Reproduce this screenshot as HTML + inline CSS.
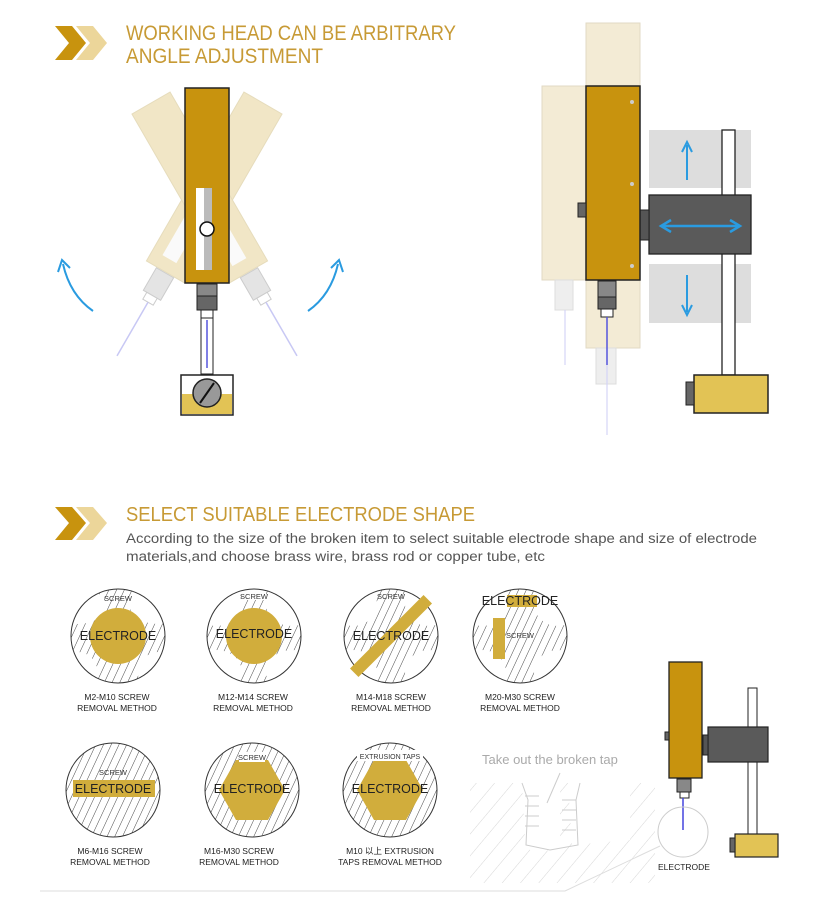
<!DOCTYPE html>
<html><head><meta charset="utf-8"><style>
html,body{margin:0;padding:0;background:#fff;}
svg{display:block;}
text{font-family:"Liberation Sans",sans-serif;}
</style></head><body>
<svg width="820" height="923" viewBox="0 0 820 923" xmlns="http://www.w3.org/2000/svg">
<defs>
<pattern id="h" width="7" height="7" patternUnits="userSpaceOnUse" patternTransform="rotate(25)">
<rect width="7" height="7" fill="#fff"/><line x1="0" y1="0" x2="0" y2="7" stroke="#333" stroke-width="0.9"/>
</pattern>
<pattern id="h2" width="14" height="14" patternUnits="userSpaceOnUse" patternTransform="rotate(40)">
<line x1="0" y1="0" x2="0" y2="14" stroke="#ccc" stroke-width="0.8"/>
</pattern>
<g id="head">
<rect x="185" y="88" width="44" height="195" fill="#c8930e" stroke="#222" stroke-width="1.5"/>
<rect x="196" y="188" width="16" height="82" fill="#fff"/>
<rect x="204" y="188" width="8" height="82" fill="#bbb"/>
<circle cx="207" cy="229" r="7" fill="#fff" stroke="#111" stroke-width="1.5"/>
<rect x="197" y="284" width="20" height="12" fill="#888" stroke="#222"/>
<rect x="197" y="296" width="20" height="14" fill="#666" stroke="#222"/>
<rect x="201" y="310" width="12" height="8" fill="#fff" stroke="#222"/>
</g>
<g id="gh">
<rect x="185" y="88" width="44" height="195" fill="#f1e6c6" stroke="#e6dcbc"/>
<rect x="196" y="188" width="16" height="82" fill="#fafafa"/>
<rect x="197" y="284" width="20" height="26" fill="#e4e4e4" stroke="#ccc"/>
<rect x="201" y="310" width="12" height="8" fill="#fff" stroke="#ccc"/>
<line x1="207" y1="318" x2="207" y2="380" stroke="#c8c8f4" stroke-width="1.5"/>
</g>
<clipPath id="c"><circle r="47"/></clipPath>
</defs>

<!-- header 1 -->
<polygon points="55,26 72,26 86,43 72,60 55,60 69,43" fill="#c8930e"/>
<polygon points="76,26 93,26 107,43 93,60 76,60 90,43" fill="#ecd69a"/>
<text x="126" y="40" font-size="21" fill="#c79a35" textLength="330" lengthAdjust="spacingAndGlyphs">WORKING HEAD CAN BE ARBITRARY</text>
<text x="126" y="63" font-size="21" fill="#c79a35" textLength="197" lengthAdjust="spacingAndGlyphs">ANGLE ADJUSTMENT</text>

<!-- left machine -->
<use href="#gh" transform="rotate(30 207 200)"/>
<use href="#gh" transform="rotate(-30 207 200)"/>
<use href="#head"/>
<rect x="201" y="318" width="12" height="56" fill="#fff" stroke="#222"/>
<line x1="207" y1="320" x2="207" y2="368" stroke="#5555dd" stroke-width="1.5"/>
<rect x="181" y="375" width="52" height="40" fill="#fff" stroke="#222" stroke-width="1.5"/>
<rect x="182" y="394" width="50" height="20" fill="#e2c355"/>
<circle cx="207" cy="393" r="14" fill="#999" stroke="#222" stroke-width="1.5"/>
<line x1="200" y1="403" x2="214" y2="383" stroke="#111" stroke-width="2"/>
<path d="M93,311 Q70,295 63,264" fill="none" stroke="#2a9be0" stroke-width="2"/>
<path d="M58,272 L62,260 L70,268" fill="none" stroke="#2a9be0" stroke-width="2"/>
<path d="M308,311 Q331,295 338,264" fill="none" stroke="#2a9be0" stroke-width="2"/>
<path d="M331,268 L339,260 L343,272" fill="none" stroke="#2a9be0" stroke-width="2"/>

<!-- right machine -->
<rect x="586" y="23" width="54" height="325" fill="#f3ebd5" stroke="#e2dac4"/>
<rect x="542" y="86" width="44" height="194" fill="#f3ebd5" stroke="#e2dac4"/>
<rect x="555" y="280" width="18" height="30" fill="#eee" stroke="#ddd"/>
<rect x="596" y="348" width="20" height="36" fill="#eee" stroke="#ddd"/>
<line x1="565" y1="310" x2="565" y2="365" stroke="#d4d4f6" stroke-width="1.2"/>
<line x1="607" y1="365" x2="607" y2="435" stroke="#d4d4f6" stroke-width="1.2"/>
<rect x="649" y="130" width="102" height="58" fill="#ddd"/>
<rect x="649" y="264" width="102" height="59" fill="#ddd"/>
<rect x="722" y="130" width="13" height="245" fill="#fff" stroke="#222" stroke-width="1.3"/>
<rect x="649" y="195" width="102" height="59" fill="#5a5a5a" stroke="#222" stroke-width="1.3"/>
<rect x="640" y="210" width="9" height="30" fill="#555" stroke="#222"/>
<rect x="586" y="86" width="54" height="194" fill="#c8930e" stroke="#222" stroke-width="1.5"/>
<rect x="578" y="203" width="8" height="14" fill="#666" stroke="#222"/>
<circle cx="632" cy="102" r="2" fill="#ccc"/><circle cx="632" cy="184" r="2" fill="#ccc"/><circle cx="632" cy="266" r="2" fill="#ccc"/>
<rect x="598" y="281" width="18" height="16" fill="#888" stroke="#222"/>
<rect x="598" y="297" width="18" height="12" fill="#666" stroke="#222"/>
<rect x="601" y="309" width="12" height="8" fill="#fff" stroke="#222"/>
<line x1="607" y1="317" x2="607" y2="365" stroke="#5555dd" stroke-width="1.5"/>
<line x1="687" y1="180" x2="687" y2="145" stroke="#2a9be0" stroke-width="2"/>
<path d="M682,152 L687,142 L692,152" fill="none" stroke="#2a9be0" stroke-width="2"/>
<line x1="687" y1="275" x2="687" y2="312" stroke="#2a9be0" stroke-width="2"/>
<path d="M682,305 L687,315 L692,305" fill="none" stroke="#2a9be0" stroke-width="2"/>
<line x1="663" y1="226" x2="738" y2="226" stroke="#2a9be0" stroke-width="2.5"/>
<path d="M671,220 L661,226 L671,232 M730,220 L740,226 L730,232" fill="none" stroke="#2a9be0" stroke-width="2.5"/>
<rect x="694" y="375" width="74" height="38" fill="#e2c355" stroke="#222" stroke-width="1.5"/>
<rect x="686" y="382" width="8" height="23" fill="#666" stroke="#222"/>

<!-- header 2 -->
<polygon points="55,507 72,507 86,523 72,540 55,540 69,523" fill="#c8930e"/>
<polygon points="76,507 93,507 107,523 93,540 76,540 90,523" fill="#ecd69a"/>
<text x="126" y="521" font-size="20" fill="#c79a35" textLength="349" lengthAdjust="spacingAndGlyphs">SELECT SUITABLE ELECTRODE SHAPE</text>
<text x="126" y="543" font-size="13.5" fill="#555" textLength="631" lengthAdjust="spacingAndGlyphs">According to the size of the broken item to select suitable electrode shape and size of electrode</text>
<text x="126" y="561" font-size="13.5" fill="#555" textLength="419" lengthAdjust="spacingAndGlyphs">materials,and choose brass wire, brass rod or copper tube, etc</text>

<!-- circles row 1 -->
<g font-size="7.5" fill="#333" text-anchor="middle">
<g transform="translate(118,636)">
<g clip-path="url(#c)"><circle r="47" fill="url(#h)"/>
<ellipse cx="-40" cy="-30" rx="28" ry="18" fill="#fff"/><ellipse cx="40" cy="-30" rx="28" ry="18" fill="#fff"/>
<ellipse cx="-40" cy="38" rx="20" ry="22" fill="#fff"/><ellipse cx="40" cy="38" rx="20" ry="22" fill="#fff"/></g>
<circle r="47" fill="none" stroke="#333"/>
<circle r="28" fill="#d1ad3c"/>
<text y="-35">SCREW</text><text y="4" font-size="12.5" fill="#222">ELECTRODE</text>
</g>
<g transform="translate(254,636)">
<g clip-path="url(#c)"><circle r="47" fill="url(#h)"/>
<ellipse cx="-38" cy="-32" rx="26" ry="22" fill="#fff"/><ellipse cx="38" cy="-32" rx="26" ry="22" fill="#fff"/>
<ellipse cx="-38" cy="36" rx="26" ry="22" fill="#fff"/><ellipse cx="38" cy="36" rx="26" ry="22" fill="#fff"/>
<rect x="-12" y="-48" width="24" height="12" fill="#fff"/></g>
<circle r="47" fill="none" stroke="#333"/>
<circle r="28" fill="#d1ad3c"/>
<text y="-37">SCREW</text><text y="2" font-size="12.5" fill="#222">ELECTRODE</text>
</g>
<g transform="translate(391,636)">
<g clip-path="url(#c)"><circle r="47" fill="url(#h)"/>
<ellipse cx="-38" cy="-32" rx="24" ry="22" fill="#fff"/><ellipse cx="38" cy="-32" rx="24" ry="22" fill="#fff"/>
<ellipse cx="-38" cy="36" rx="24" ry="22" fill="#fff"/><ellipse cx="38" cy="36" rx="24" ry="22" fill="#fff"/></g>
<circle r="47" fill="none" stroke="#333"/>
<rect x="-52" y="-6" width="104" height="12" fill="#d1ad3c" transform="rotate(-45)"/>
<text y="-37">SCREW</text><text y="4" font-size="12.5" fill="#222">ELECTRODE</text>
</g>
<g transform="translate(520,636)">
<g clip-path="url(#c)"><circle r="47" fill="url(#h)"/>
<ellipse cx="-38" cy="-32" rx="24" ry="22" fill="#fff"/><ellipse cx="38" cy="-32" rx="24" ry="22" fill="#fff"/>
<ellipse cx="-38" cy="36" rx="24" ry="22" fill="#fff"/><ellipse cx="38" cy="36" rx="24" ry="22" fill="#fff"/></g>
<circle r="47" fill="none" stroke="#333"/>
<rect x="-13" y="-41" width="30" height="12" fill="#d1ad3c"/>
<rect x="-27" y="-18" width="12" height="41" fill="#d1ad3c"/>
<text y="-31" font-size="12.5" fill="#222">ELECTRODE</text><text y="2">SCREW</text>
</g>
<!-- row 2 -->
<g transform="translate(113,790)">
<circle r="47" fill="url(#h)" stroke="#333"/>
<rect x="-40" y="-10" width="82" height="17" fill="#d1ad3c"/>
<text y="-15">SCREW</text><text y="3" font-size="12.5" fill="#222">ELECTRODE</text>
</g>
<g transform="translate(252,790)">
<circle r="47" fill="url(#h)" stroke="#333"/>
<polygon points="-16,-30 16,-30 33,0 16,30 -16,30 -33,0" fill="#d1ad3c"/>
<rect x="-13" y="-38" width="26" height="10" fill="#fff"/>
<text y="-30">SCREW</text><text y="3" font-size="12.5" fill="#222">ELECTRODE</text>
</g>
<g transform="translate(390,790)">
<circle r="47" fill="url(#h)" stroke="#333"/>
<polygon points="-16,-30 16,-30 33,0 16,30 -16,30 -33,0" fill="#d1ad3c"/>
<rect x="-33" y="-40" width="66" height="11" fill="#fff"/>
<text y="-31" font-size="7">EXTRUSION TAPS</text><text y="3" font-size="12.5" fill="#222">ELECTRODE</text>
</g>
<g font-size="8.5" fill="#222">
<text x="117" y="700">M2-M10 SCREW</text><text x="117" y="711">REMOVAL METHOD</text>
<text x="253" y="700">M12-M14 SCREW</text><text x="253" y="711">REMOVAL METHOD</text>
<text x="391" y="700">M14-M18 SCREW</text><text x="391" y="711">REMOVAL METHOD</text>
<text x="520" y="700">M20-M30 SCREW</text><text x="520" y="711">REMOVAL METHOD</text>
<text x="110" y="854">M6-M16 SCREW</text><text x="110" y="865">REMOVAL METHOD</text>
<text x="239" y="854">M16-M30 SCREW</text><text x="239" y="865">REMOVAL METHOD</text>
<text x="390" y="854" font-family="Liberation Sans, Noto Sans CJK SC, sans-serif">M10 以上 EXTRUSION</text><text x="390" y="865">TAPS REMOVAL METHOD</text>
</g>
</g>

<!-- broken tap -->
<text x="482" y="764" font-size="13" fill="#aaa">Take out the broken tap</text>
<rect x="470" y="783" width="185" height="100" fill="url(#h2)"/>
<polygon points="522,783 560,783 560,848 540,852 530,850 525,840" fill="#fff"/>
<polygon points="568,783 630,783 630,840 572,845" fill="#fff"/>
<path d="M522,783 L528,800 L526,845 L550,850 L578,845 L576,800 L580,783" fill="none" stroke="#ccc"/>
<g stroke="#ccc" fill="none"><path d="M525,796 h14 M525,806 h14 M525,816 h14 M525,826 h14 M562,800 h14 M562,810 h14 M562,820 h14 M562,830 h14"/></g>
<line x1="560" y1="773" x2="547" y2="803" stroke="#ccc"/>
<path d="M40,891 L565,891 L660,846" fill="none" stroke="#ddd"/>

<!-- small machine -->
<rect x="748" y="688" width="9" height="148" fill="#fff" stroke="#222"/>
<rect x="708" y="727" width="60" height="35" fill="#5a5a5a" stroke="#222" stroke-width="1.2"/>
<rect x="703" y="735" width="5" height="20" fill="#555" stroke="#222"/>
<rect x="669" y="662" width="33" height="116" fill="#c8930e" stroke="#222" stroke-width="1.3"/>
<rect x="665" y="732" width="4" height="8" fill="#666" stroke="#222"/>
<rect x="677" y="779" width="14" height="13" fill="#888" stroke="#222"/>
<rect x="680" y="792" width="9" height="6" fill="#fff" stroke="#222"/>
<line x1="683" y1="798" x2="683" y2="830" stroke="#4444dd" stroke-width="1.5"/>
<circle cx="683" cy="832" r="25" fill="none" stroke="#ccc"/>
<text x="684" y="870" font-size="8.5" fill="#222" text-anchor="middle">ELECTRODE</text>
<rect x="735" y="834" width="43" height="23" fill="#e2c355" stroke="#222" stroke-width="1.2"/>
<rect x="730" y="838" width="5" height="14" fill="#666" stroke="#222"/>
</svg>
</body></html>
